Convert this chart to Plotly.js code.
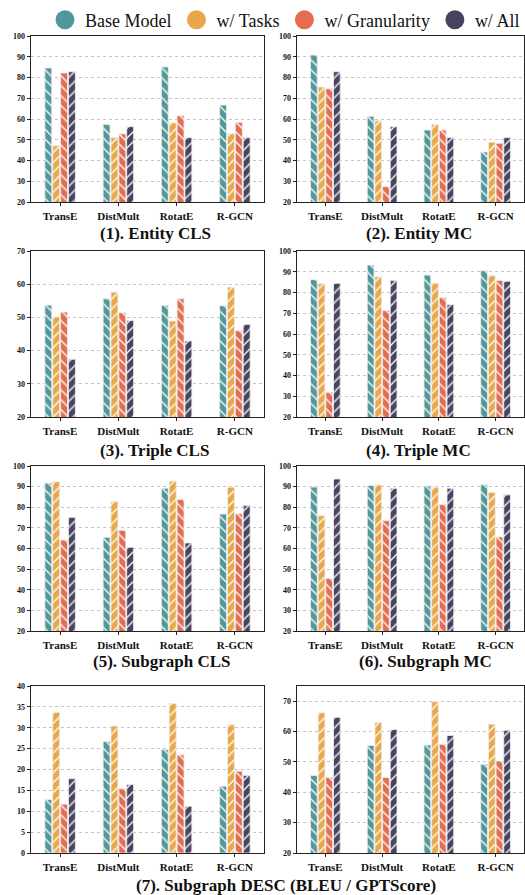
<!DOCTYPE html>
<html>
<head>
<meta charset="utf-8">
<script src="https://cdn.plot.ly/plotly-3.0.1.min.js"></script>
<style>
html,body{margin:0;padding:0;background:#fff;overflow:hidden;}
#chart{width:525px;height:895px;}
</style>
</head>
<body>
<div id="chart"></div>
<script>
// ---------- DATA ----------
const categories = ['TransE', 'DistMult', 'RotatE', 'R-GCN'];
const seriesNames = ['Base Model', 'w/ Tasks', 'w/ Granularity', 'w/ All'];
const panelTitles = ['(1). Entity CLS', '(2). Entity MC', '(3). Triple CLS', '(4). Triple MC',
                     '(5). Subgraph CLS', '(6). Subgraph MC', '(7). Subgraph DESC (BLEU / GPTScore)'];

// rows: Base Model, w/ Tasks, w/ Granularity, w/ All ; columns: categories
const entityCLS = [
  [84.6, 57.4, 85.1, 66.7],
  [47.1, 51.0, 58.1, 52.9],
  [82.2, 52.8, 61.6, 58.4],
  [82.8, 56.3, 51.0, 51.0]
];
const entityMC = [
  [90.8, 61.3, 54.7, 44.1],
  [75.4, 59.2, 57.4, 48.8],
  [74.6, 27.4, 54.7, 48.3],
  [82.8, 56.3, 51.0, 51.0]
];
const tripleCLS = [
  [53.7, 55.6, 53.6, 53.5],
  [50.1, 57.6, 48.9, 59.1],
  [51.6, 51.4, 55.6, 46.0],
  [37.4, 49.1, 42.9, 47.9]
];
const tripleMC = [
  [86.2, 93.2, 88.4, 90.5],
  [84.2, 87.6, 84.4, 88.1],
  [31.9, 71.3, 77.5, 85.8],
  [84.4, 85.8, 74.2, 85.4]
];
const subgraphCLS = [
  [91.7, 65.4, 89.2, 76.7],
  [92.4, 82.7, 92.7, 89.7],
  [64.1, 68.8, 83.8, 76.9],
  [75.1, 60.6, 62.7, 80.8]
];
const subgraphMC = [
  [89.8, 90.5, 90.3, 90.9],
  [75.9, 90.8, 89.5, 87.2],
  [45.5, 73.5, 81.3, 65.6],
  [93.7, 89.2, 89.2, 86.0]
];
const subgraphDescBLEU = [
  [12.8, 26.7, 24.8, 16.0],
  [33.7, 30.4, 35.8, 30.7],
  [11.7, 15.4, 23.5, 19.6],
  [17.8, 16.4, 11.2, 18.6]
];
const subgraphDescGPT = [
  [45.5, 55.4, 55.6, 49.2],
  [66.2, 63.0, 69.8, 62.4],
  [44.9, 44.9, 55.8, 50.3],
  [64.7, 60.7, 58.7, 60.4]
];
const panels = [entityCLS, entityMC, tripleCLS, tripleMC, subgraphCLS, subgraphMC, subgraphDescBLEU, subgraphDescGPT];
const yRanges = [[20,100],[20,100],[20,70],[20,100],[20,100],[20,100],[0,40],[20,75]];
const yDticks = [10,10,10,10,10,10,5,10];

// ---------- STYLE ----------
const W = 525, H = 895;
const colors = ['#52979A', '#E8A84A', '#E46C50', '#46445F'];
const hatches = ['\\', '/', '\\', '/'];
const FONT = 'Liberation Serif';
const colX = [[31, 264], [297, 524]];
const rowY = [[36, 202], [251, 417], [466, 631], [686, 853]];
const titlePos = [[155, 233], [419, 233], [154, 451], [418, 451], [161, 661], [425, 661], [286, 885]];

const data = [];
const layout = {
  width: W, height: H,
  margin: {l: 0, r: 0, t: 0, b: 0},
  paper_bgcolor: '#fff', plot_bgcolor: '#fff',
  font: {family: FONT, color: '#000'},
  barmode: 'group', bargap: 0.46, bargroupgap: 0.12,
  showlegend: true,
  legend: {orientation: 'h', x: 0.545, xanchor: 'center', y: 1 - 20 / H, yanchor: 'middle',
           font: {family: FONT, size: 18, color: '#111'}, itemsizing: 'trace',
           bgcolor: 'rgba(0,0,0,0)', tracegroupgap: 0},
  annotations: []
};

panels.forEach((panel, p) => {
  const ax = p === 0 ? '' : String(p + 1);
  const col = p % 2, row = Math.floor(p / 2);
  panel.forEach((vals, s) => {
    data.push({
      type: 'bar', x: categories, y: vals, name: seriesNames[s],
      xaxis: 'x' + ax, yaxis: 'y' + ax, showlegend: false, hoverinfo: 'skip',
      marker: {
        color: colors[s],
        line: {color: 'rgba(235,235,235,0.85)', width: 1},
        pattern: {shape: hatches[s], fillmode: 'overlay', fgcolor: '#ffffff', fgopacity: 0.95, size: 7, solidity: 0.2}
      }
    });
  });
  layout['xaxis' + ax] = {
    domain: [colX[col][0] / W, colX[col][1] / W], anchor: 'y' + ax,
    type: 'category', showgrid: false, showline: true, mirror: true,
    linecolor: '#222', linewidth: 1.3, ticks: 'outside', ticklen: 3, tickcolor: '#222',
    tickfont: {family: FONT, size: 11, color: '#111', weight: 'bold'}, fixedrange: true
  };
  layout['yaxis' + ax] = {
    domain: [1 - rowY[row][1] / H, 1 - rowY[row][0] / H], anchor: 'x' + ax,
    range: yRanges[p], dtick: yDticks[p], tick0: 0,
    showgrid: true, gridcolor: '#c4c4c4', griddash: 'dot', gridwidth: 1,
    zeroline: false, showline: true, mirror: true, linecolor: '#222', linewidth: 1.3,
    ticks: 'outside', ticklen: 3, tickcolor: '#222',
    tickfont: {family: FONT, size: 8, color: '#111', weight: 'bold'}, fixedrange: true
  };
});

// legend entries (circle symbols)
seriesNames.forEach((n, s) => {
  data.push({type: 'scatter', mode: 'markers', x: [null], y: [null], name: n,
             xaxis: 'x', yaxis: 'y', hoverinfo: 'skip',
             marker: {color: colors[s], size: 20, symbol: 'circle', line: {color: colors[s], width: 3}}});
});

panelTitles.forEach((t, i) => {
  layout.annotations.push({
    text: t, xref: 'paper', yref: 'paper', x: titlePos[i][0] / W, y: 1 - titlePos[i][1] / H,
    xanchor: 'center', yanchor: 'middle', showarrow: false,
    font: {family: FONT, size: 17, color: '#111', weight: 'bold'}
  });
});

Plotly.newPlot('chart', data, layout, {displayModeBar: false, staticPlot: true});
</script>
</body>
</html>
